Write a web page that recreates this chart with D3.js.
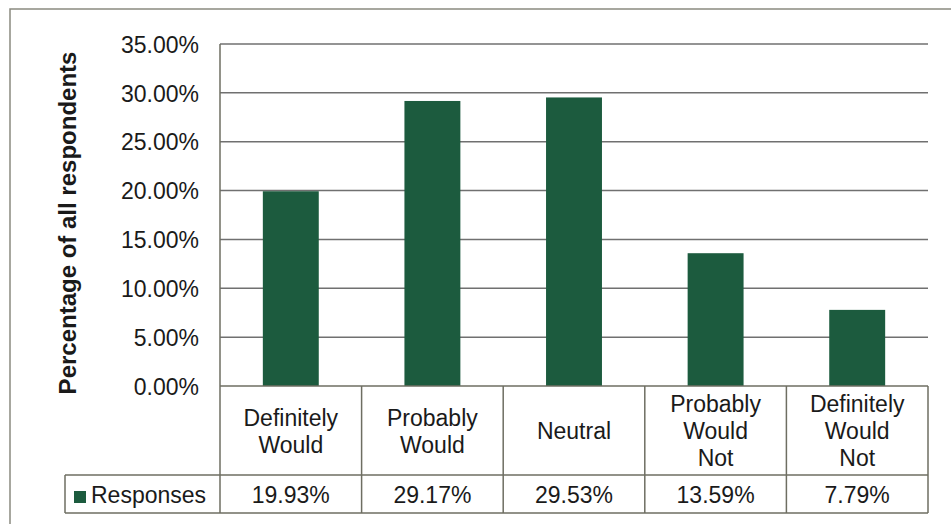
<!DOCTYPE html>
<html>
<head>
<meta charset="utf-8">
<script src="https://cdn.jsdelivr.net/npm/d3@7"></script>
<style>
  html, body { margin: 0; padding: 0; background: #fff; }
  svg { display: block; font-family: "Liberation Sans", Arial, sans-serif; }
</style>
</head>
<body>
<svg id="chart" width="951" height="524"></svg>
<script>
// Survey responses, share of all respondents
const categories = [
  ["Definitely", "Would"],
  ["Probably", "Would"],
  ["Neutral"],
  ["Probably", "Would", "Not"],
  ["Definitely", "Would", "Not"]
];
const responses = [0.1993, 0.2917, 0.2953, 0.1359, 0.0779];
const yTicks = [0, 0.05, 0.10, 0.15, 0.20, 0.25, 0.30, 0.35];
const seriesName = "Responses";
const yTitle = "Percentage of all respondents";

const svg = d3.select("#chart");
const green = "#1c5b3e";
const gridColor = "#707070";
const tableColor = "#6e6e62";
const fontSize = 23;

const plot = { left: 220, right: 928, top: 44, bottom: 386 };
const tableBottom = 513, rowLine = 475, legendLeft = 65;

const keys = categories.map((c, i) => i);
const x = d3.scaleBand().domain(keys).range([plot.left, plot.right]).padding(0);
const y = d3.scaleLinear().domain([0, 0.35]).range([plot.bottom, plot.top]);
const fmt = d3.format(".2%");

// outer chart frame
svg.append("rect")
  .attr("x", 10).attr("y", 9).attr("width", 960).attr("height", 540)
  .attr("fill", "none").attr("stroke", "#8a8a80").attr("stroke-width", 1.5);

// horizontal gridlines
svg.append("g").selectAll("line").data(yTicks.filter(t => t > 0)).join("line")
  .attr("x1", plot.left).attr("x2", plot.right)
  .attr("y1", d => y(d)).attr("y2", d => y(d))
  .attr("stroke", gridColor).attr("stroke-width", 1.5);

// y tick labels
const yAxis = d3.axisLeft(y).tickValues(yTicks).tickFormat(fmt).tickSize(0).tickPadding(21);
const yg = svg.append("g").attr("transform", `translate(${plot.left},0)`).call(yAxis);
yg.select(".domain").remove();
yg.selectAll("text")
  .attr("font-size", fontSize).attr("fill", "#1a1a1a")
  .attr("font-family", "Liberation Sans, Arial, sans-serif")
  .attr("dy", "0.36em");

// y axis title
svg.append("text")
  .attr("transform", `translate(76,223) rotate(-90)`)
  .attr("text-anchor", "middle")
  .attr("font-size", 24).attr("font-weight", "bold").attr("fill", "#1a1a1a")
  .text(yTitle);

// bars
const barW = x.bandwidth() * 0.395;
svg.append("g").selectAll("rect").data(responses).join("rect")
  .attr("x", (d, i) => x(i) + (x.bandwidth() - barW) / 2)
  .attr("width", barW)
  .attr("y", d => y(d))
  .attr("height", d => y(0) - y(d))
  .attr("fill", green);

// data table lines
const t = svg.append("g").attr("stroke", tableColor).attr("stroke-width", 1.5).attr("fill", "none");
t.append("line").attr("x1", plot.left).attr("x2", plot.right).attr("y1", plot.bottom).attr("y2", plot.bottom);
t.append("line").attr("x1", legendLeft).attr("x2", plot.right).attr("y1", rowLine).attr("y2", rowLine);
t.append("line").attr("x1", legendLeft).attr("x2", plot.right).attr("y1", tableBottom).attr("y2", tableBottom);
t.append("line").attr("x1", legendLeft).attr("x2", legendLeft).attr("y1", rowLine).attr("y2", tableBottom);
t.append("line").attr("x1", plot.left).attr("x2", plot.left).attr("y1", plot.top).attr("y2", tableBottom);
t.selectAll("line.col").data(keys).join("line").attr("class", "col")
  .attr("x1", d => x(d) + x.bandwidth()).attr("x2", d => x(d) + x.bandwidth())
  .attr("y1", plot.bottom).attr("y2", tableBottom);

// category labels
const lineGap = 27, midBaseline = 439;
const cat = svg.append("g").attr("font-size", fontSize).attr("fill", "#1a1a1a").attr("text-anchor", "middle");
categories.forEach((lines, i) => {
  const first = midBaseline - (lines.length - 1) * lineGap / 2;
  const txt = cat.append("text").attr("x", x(i) + x.bandwidth() / 2);
  lines.forEach((ln, j) => {
    txt.append("tspan").attr("x", x(i) + x.bandwidth() / 2).attr("y", first + j * lineGap).text(ln);
  });
});

// value row
svg.append("g").attr("font-size", fontSize).attr("fill", "#1a1a1a").attr("text-anchor", "middle")
  .selectAll("text").data(responses).join("text")
  .attr("x", (d, i) => x(i) + x.bandwidth() / 2)
  .attr("y", 503)
  .text(d => fmt(d));

// legend key
svg.append("rect").attr("x", 74).attr("y", 491).attr("width", 12).attr("height", 12).attr("fill", green);
svg.append("text").attr("x", 91).attr("y", 503).attr("font-size", fontSize).attr("fill", "#1a1a1a").text(seriesName);
</script>
</body>
</html>
